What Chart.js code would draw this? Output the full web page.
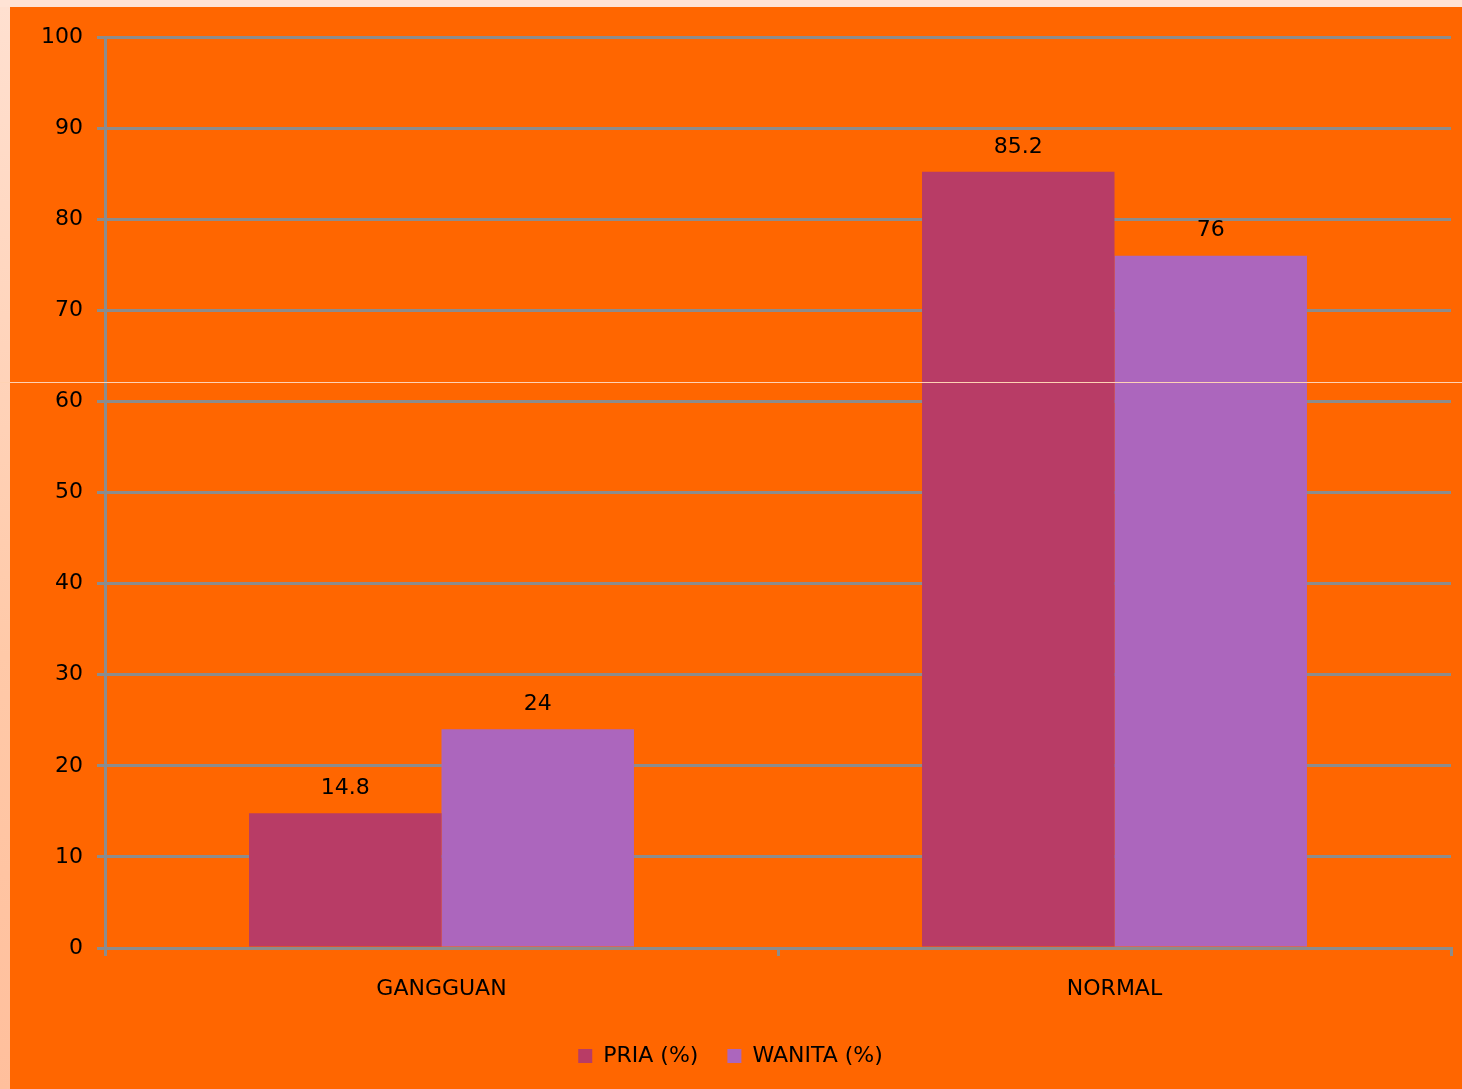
<!DOCTYPE html>
<html>
<head>
<meta charset="utf-8">
<script src="https://cdn.jsdelivr.net/npm/chart.js@4.4.0/dist/chart.umd.min.js"></script>
<style>
    body { margin: 0; background: #ffe3d5; width: 1462px; height: 1089px; overflow: hidden; position: relative; }
    #left-strip { position: absolute; left: 0; top: 7px; width: 10px; height: 1082px; background: linear-gradient(#ffe0d0, #ffc9a8 60%, #ffbf9c); }
    #wrap { position: absolute; left: 10px; top: 7px; width: 1452px; height: 1082px; background: #ff6600; }
    #seam { position: absolute; left: 0; top: 382px; width: 1462px; height: 1px; background: #ffd2b4; }
</style>
</head>
<body>
<div id="left-strip"></div>
<div id="wrap"><canvas id="bar-chart" width="1452" height="1082"></canvas></div>
<div id="seam"></div>
<script>
var categories = ['GANGGUAN', 'NORMAL'];
var pria = [14.8, 85.2];
var wanita = [24, 76];
var series_names = ['PRIA (%)', 'WANITA (%)'];
var series_colors = ['#b83c66', '#ac66bd'];
var y_ticks = [0, 10, 20, 30, 40, 50, 60, 70, 80, 90, 100];

var axis_gray = '#8c8c8c';
var font_family = '"DejaVu Sans", Tahoma, sans-serif';

// write each bar's value above it
const valueLabels = {
    id: 'valueLabels',
    afterDatasetsDraw(chart) {
        const ctx = chart.ctx;
        ctx.save();
        ctx.fillStyle = '#000';
        ctx.font = '22px ' + font_family;
        ctx.textAlign = 'center';
        ctx.textBaseline = 'bottom';
        chart.data.datasets.forEach((ds, i) => {
            chart.getDatasetMeta(i).data.forEach((bar, j) => {
                ctx.fillText(String(ds.data[j]), bar.x, bar.y - 14);
            });
        });
        ctx.restore();
    }
};

new Chart(document.getElementById('bar-chart'), {
    type: 'bar',
    data: {
        labels: categories,
        datasets: [{
            label: series_names[0],
            backgroundColor: series_colors[0],
            data: pria,
        }, {
            label: series_names[1],
            backgroundColor: series_colors[1],
            data: wanita,
        }]
    },
    options: {
        responsive: false,
        animation: false,
        layout: { padding: { top: 30, right: 11, left: 0, bottom: 12 } },
        datasets: { bar: { barPercentage: 1, categoryPercentage: 0.572 } },
        scales: {
            x: {
                grid: { display: true, drawOnChartArea: false, drawTicks: true, tickLength: 8, color: axis_gray, lineWidth: 3, offset: true },
                border: { display: true, color: axis_gray, width: 3 },
                ticks: { color: '#000', font: { family: font_family, size: 22 }, padding: 20 },
                afterFit: function(scale) { scale.height = 68; }
            },
            y: {
                min: 0,
                max: 100,
                afterBuildTicks: function(scale) { scale.ticks = y_ticks.map(v => ({ value: v })); },
                grid: { color: axis_gray, lineWidth: 3, tickLength: 8 },
                border: { display: true, color: axis_gray, width: 3 },
                ticks: { color: '#000', font: { family: font_family, size: 22 }, padding: 14 },
                afterFit: function(scale) { scale.width = 95; }
            }
        },
        plugins: {
            legend: {
                position: 'bottom',
                labels: {
                    color: '#000',
                    font: { family: font_family, size: 22 },
                    boxWidth: 14,
                    boxHeight: 14,
                    padding: 29
                }
            },
            tooltip: { enabled: false }
        }
    },
    plugins: [valueLabels]
});
</script>
</body>
</html>
